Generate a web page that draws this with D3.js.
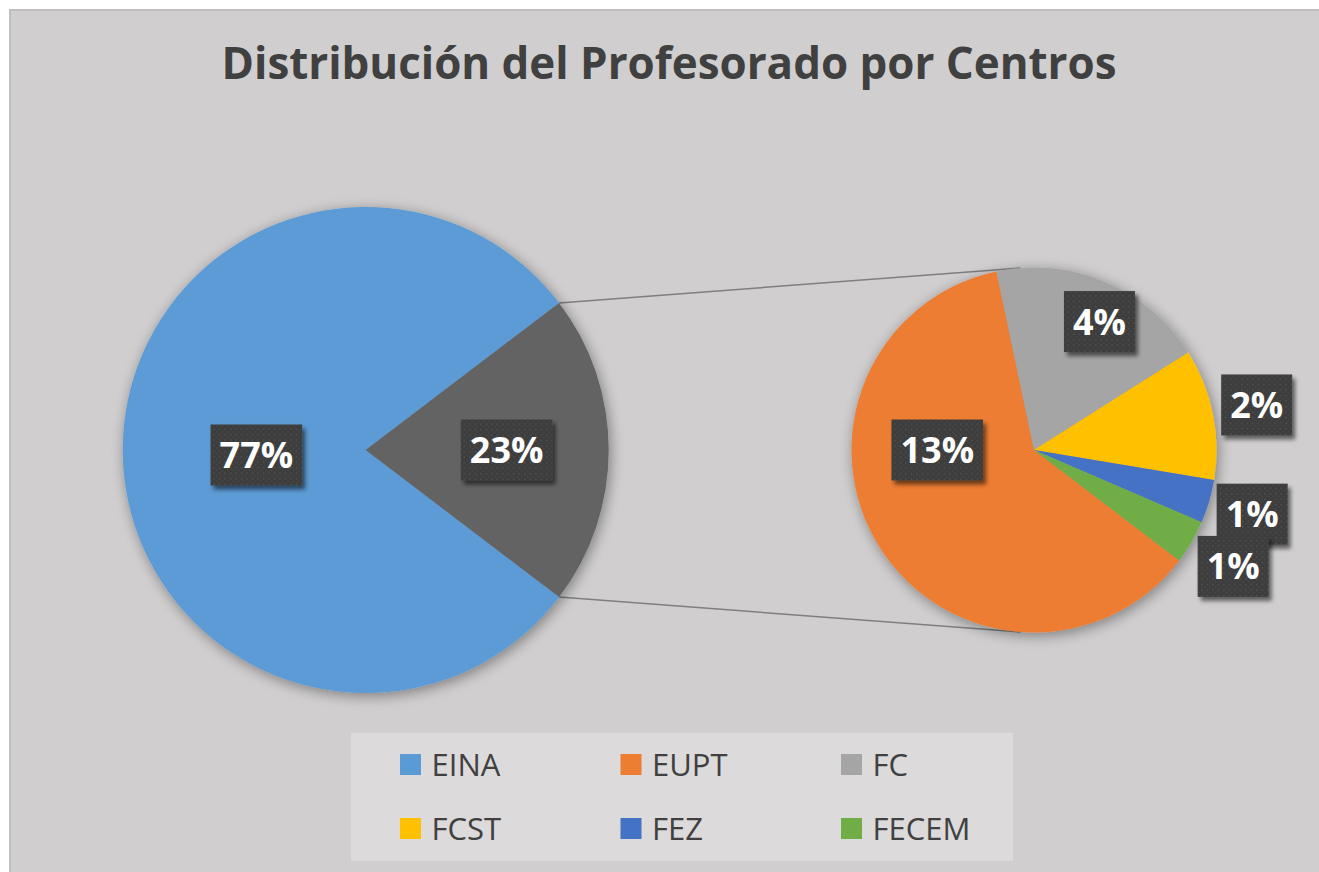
<!DOCTYPE html>
<html>
<head>
<meta charset="utf-8">
<script src="https://cdn.jsdelivr.net/npm/d3@7"></script>
<style>
  html, body { margin: 0; padding: 0; background: #ffffff; }
  svg { display: block; }
</style>
</head>
<body>
<div id="chart"></div>
<script>
// datos del grafico (porcentaje del profesorado por centro)
var centros = ['EINA', 'EUPT', 'FC', 'FCST', 'FEZ', 'FECEM'];
var porcentaje = [79.3, 12.7, 4.0, 2.4, 0.8, 0.8];
var etiquetas = ['77%', '13%', '4%', '2%', '1%', '1%'];   // tal como aparecen en el grafico
var etiquetaOtros = '23%';
var colores = ['#5B9BD5', '#ED7D31', '#A5A5A5', '#FFC000', '#4472C4', '#70AD47'];
var colorOtros = '#646464';

(function pieOfPie(){
    'use strict';
    var width = 1319, height = 872;
    var main = {cx: 365.7, cy: 450, r: 243};
    var sub = {cx: 1034, cy: 450, r: 182.5};
    // posicion de las etiquetas: radio relativo, angulo (grados) si no es el del centro del sector
    var labelLayout = {
        EINA: {r: 0.45, dy: 5}, Otros: {r: 0.58},
        EUPT: {r: 0.53, a: 270}, FC: {r: 0.79, a: 27},
        FCST: {r: 1.245}, FEZ: {r: 1.246}, FECEM: {r: 1.264}
    };

    var svg = d3.select('#chart').append('svg')
        .attr('width', width).attr('height', height);

    var defs = svg.append('defs');
    var pieShadow = defs.append('filter').attr('id', 'pieShadow')
        .attr('x', '-20%').attr('y', '-20%').attr('width', '140%').attr('height', '140%');
    pieShadow.append('feGaussianBlur').attr('in', 'SourceAlpha').attr('stdDeviation', 7);
    pieShadow.append('feOffset').attr('dx', 2).attr('dy', 3).attr('result', 'off');
    pieShadow.append('feComponentTransfer').append('feFuncA').attr('type', 'linear').attr('slope', 0.4);
    var m1 = pieShadow.append('feMerge');
    m1.append('feMergeNode');
    m1.append('feMergeNode').attr('in', 'SourceGraphic');

    var boxShadow = defs.append('filter').attr('id', 'boxShadow')
        .attr('x', '-30%').attr('y', '-30%').attr('width', '160%').attr('height', '160%');
    boxShadow.append('feDropShadow').attr('dx', 3).attr('dy', 4)
        .attr('stdDeviation', 2).attr('flood-color', '#000').attr('flood-opacity', 0.55);

    var dots = defs.append('pattern').attr('id', 'dots')
        .attr('width', 5.5).attr('height', 5.5).attr('patternUnits', 'userSpaceOnUse');
    dots.append('rect').attr('width', 5.5).attr('height', 5.5).attr('fill', '#3e3e3e');
    dots.append('rect').attr('x', 1).attr('y', 1).attr('width', 1.3).attr('height', 1.3).attr('fill', '#565656');
    dots.append('rect').attr('x', 3.75).attr('y', 3.75).attr('width', 1).attr('height', 1).attr('fill', '#4c4c4c');

    // fondo del area del grafico
    svg.append('rect')
        .attr('x', 10).attr('y', 10).attr('width', width + 20).attr('height', height + 20)
        .attr('fill', '#d0cecf').attr('stroke', '#bfbdbe').attr('stroke-width', 2);

    svg.append('text')
        .attr('x', 669).attr('y', 79)
        .attr('text-anchor', 'middle')
        .attr('font-family', '"Open Sans", sans-serif').attr('font-weight', 700)
        .attr('font-size', 44).attr('fill', '#404040')
        .attr('textLength', 895).attr('lengthAdjust', 'spacingAndGlyphs')
        .text('Distribución del Profesorado por Centros');

    // pastel principal: EINA + resto agrupado
    var otros = d3.sum(porcentaje.slice(1));
    var mainData = [
        {name: 'EINA', value: porcentaje[0], color: colores[0], label: etiquetas[0]},
        {name: 'Otros', value: otros, color: colorOtros, label: etiquetaOtros}
    ];
    var half = Math.PI * otros / d3.sum(porcentaje);
    var mainStart = Math.PI / 2 + half;
    var mainArcs = d3.pie().sort(null).value(function(d){ return d.value; })
        .startAngle(mainStart).endAngle(mainStart + 2 * Math.PI)(mainData);

    var subData = centros.slice(1).map(function(c, i){
        return {name: c, value: porcentaje[i + 1], color: colores[i + 1], label: etiquetas[i + 1]};
    });
    var subArcs = d3.pie().sort(null).value(function(d){ return d.value; })
        .startAngle(mainStart).endAngle(mainStart + 2 * Math.PI)(subData);

    // lineas de union (tangentes al pastel secundario)
    var otrosArc = mainArcs[1];
    function edgePoint(c, r, a){ return [c.cx + r * Math.sin(a), c.cy - r * Math.cos(a)]; }
    function tangent(p, up){
        var dx = p[0] - sub.cx, dy = p[1] - sub.cy;
        var d = Math.sqrt(dx * dx + dy * dy);
        var base = Math.atan2(dy, dx);
        var phi = Math.acos(sub.r / d);
        var ang = up ? base + phi : base - phi;
        return [sub.cx + sub.r * Math.cos(ang), sub.cy + sub.r * Math.sin(ang)];
    }
    var pTop = edgePoint(main, main.r, otrosArc.startAngle);
    var pBot = edgePoint(main, main.r, otrosArc.endAngle);
    [[pTop, tangent(pTop, true)], [pBot, tangent(pBot, false)]].forEach(function(seg){
        svg.append('line')
            .attr('x1', seg[0][0]).attr('y1', seg[0][1])
            .attr('x2', seg[1][0]).attr('y2', seg[1][1])
            .attr('stroke', '#7f7f7f').attr('stroke-width', 1.5);
    });

    function drawPie(c, arcs){
        var arc = d3.arc().innerRadius(0).outerRadius(c.r);
        var g = svg.append('g')
            .attr('transform', 'translate(' + c.cx + ',' + c.cy + ')')
            .attr('filter', 'url(#pieShadow)');
        g.selectAll('path').data(arcs).enter().append('path')
            .attr('d', arc)
            .attr('fill', function(d){ return d.data.color; });
    }
    drawPie(main, mainArcs);
    drawPie(sub, subArcs);

    function drawLabels(c, arcs){
        var g = svg.append('g').attr('transform', 'translate(' + c.cx + ',' + c.cy + ')');
        arcs.forEach(function(d){
            var lay = labelLayout[d.data.name];
            var a = lay.a !== undefined ? lay.a * Math.PI / 180 : (d.startAngle + d.endAngle) / 2;
            var rr = lay.r * c.r;
            var x = rr * Math.sin(a), y = -rr * Math.cos(a) + (lay.dy || 0);
            var lg = g.append('g').attr('transform', 'translate(' + x + ',' + y + ')');
            var box = lg.append('rect').attr('filter', 'url(#boxShadow)').attr('fill', 'url(#dots)');
            var t = lg.append('text')
                .attr('text-anchor', 'middle').attr('y', 13)
                .attr('font-family', '"Open Sans", sans-serif').attr('font-weight', 700)
                .attr('font-size', 36).attr('fill', '#ffffff')
                .text(d.data.label);
            var w = t.node().getComputedTextLength() + 18;
            box.attr('x', -w / 2).attr('y', -30.5).attr('width', w).attr('height', 61);
        });
    }
    drawLabels(main, mainArcs);
    drawLabels(sub, subArcs);

    // leyenda
    var legend = svg.append('g');
    legend.append('rect')
        .attr('x', 351).attr('y', 733).attr('width', 662).attr('height', 128)
        .attr('fill', '#dcdadb');
    var col = d3.scalePoint().domain([0, 1, 2]).range([400, 841]);
    var row = d3.scalePoint().domain([0, 1]).range([754, 818]);
    var items = legend.selectAll('g.item').data(centros).enter().append('g')
        .attr('class', 'item')
        .attr('transform', function(d, i){ return 'translate(' + col(i % 3) + ',' + row(Math.floor(i / 3)) + ')'; });
    items.append('rect').attr('width', 21).attr('height', 21)
        .attr('fill', function(d, i){ return colores[i]; });
    items.append('text')
        .attr('x', 31.5).attr('y', 21.5)
        .attr('font-family', '"Open Sans", sans-serif').attr('font-size', 31)
        .attr('fill', '#404040')
        .text(function(d){ return d; });
})();
</script>
</body>
</html>
